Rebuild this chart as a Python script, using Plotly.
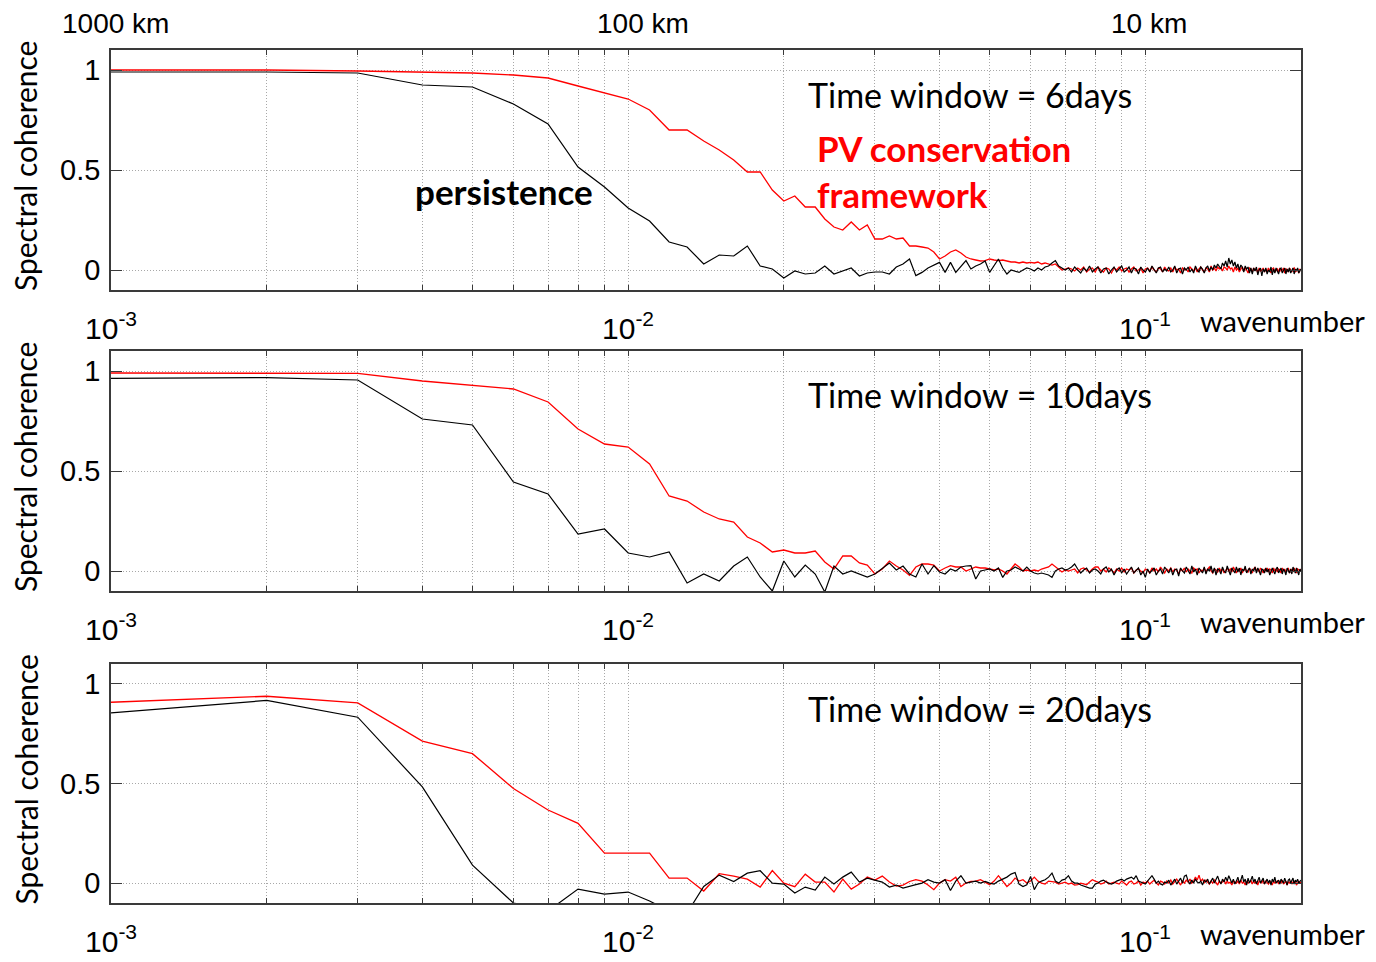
import numpy as np
import plotly.graph_objects as go

# Wavenumber grid: k = 0.001 ... 0.200
wavenumber = np.arange(1, 201) * 0.001

# --- Time window = 6 days ---
persist_6d = [
    0.99, 0.99, 0.985, 0.925, 0.915, 0.83, 0.73, 0.515, 0.415, 0.31,
    0.245, 0.14, 0.115, 0.03, 0.075, 0.07, 0.12, 0.02, 0.005, -0.04,
    -0.005, -0.02, -0.015, 0.02, -0.02, -0.005, 0.01, -0.03, -0.015, -0.01,
    -0.01, -0.02, 0.015, 0.03, 0.055, -0.028, -0.012, 0.01, 0.025, 0.038,
    -0.012, 0.038, -0.012, 0.02, 0.047, 0.005, 0.02, 0.03, 0.045, -0.012,
    0.02, 0.055, 0.01, -0.02, 0.0, -0.005, -0.012, 0.0, 0.01, 0.005,
    -0.005, 0.01, 0.0, 0.015, 0.02, 0.035, 0.047, 0.02, 0.01, 0.0,
    0.01, -0.01, 0.015, 0.0, -0.015, 0.01, -0.005, 0.02, -0.01, 0.005,
    0.015, -0.015, 0.005, 0.01, -0.02, 0.0, 0.015, -0.01, 0.005, 0.02,
    -0.01, 0.0, 0.015, -0.015, 0.01, 0.005, -0.02, 0.015, 0.0, -0.01,
    0.01, -0.01, 0.02, 0.0, -0.015, 0.01, 0.015, -0.01, 0.005, -0.005,
    0.015, -0.01, 0.0, 0.02, -0.015, 0.005, 0.01, -0.02, 0.01, 0.0,
    0.015, -0.01, 0.005, -0.015, 0.02, 0.0, -0.01, 0.015, 0.005, -0.015,
    0.01, 0.02, -0.005, 0.015, 0.0, 0.025, 0.01, 0.03, 0.015, 0.005,
    0.035, 0.02, 0.045, 0.015, 0.06, 0.03, 0.05, 0.02, 0.04, 0.01,
    0.03, 0.0, 0.025, 0.015, -0.01, 0.02, 0.005, 0.015, -0.015, 0.01,
    -0.02, 0.01, -0.005, 0.015, -0.025, 0.0, 0.01, -0.03, 0.005, -0.01,
    0.01, -0.02, 0.0, -0.01, 0.015, -0.025, 0.005, -0.015, 0.01, -0.005,
    -0.02, 0.005, 0.01, -0.015, 0.0, 0.01, -0.02, 0.005, -0.01, 0.01,
    -0.015, 0.0, 0.01, -0.02, 0.005, -0.005, 0.01, -0.015, 0.0, 0.005,
]
pv_6d = [
    1.0, 1.0, 0.995, 0.99, 0.985, 0.975, 0.96, 0.92, 0.885, 0.855,
    0.80, 0.70, 0.70, 0.645, 0.60, 0.55, 0.49, 0.49, 0.40, 0.345,
    0.37, 0.315, 0.315, 0.255, 0.215, 0.20, 0.24, 0.20, 0.225, 0.155,
    0.155, 0.17, 0.155, 0.16, 0.12, 0.12, 0.115, 0.11, 0.09, 0.055,
    0.07, 0.09, 0.10, 0.085, 0.065, 0.055, 0.05, 0.045, 0.047, 0.055,
    0.05, 0.047, 0.05, 0.045, 0.04, 0.04, 0.035, 0.04, 0.035, 0.038,
    0.035, 0.04, 0.03, 0.035, 0.03, 0.025, 0.03, 0.015, 0.0, 0.005,
    0.01, 0.005, -0.005, 0.01, 0.0, 0.015, -0.01, 0.005, 0.01, -0.01,
    0.015, 0.0, -0.01, 0.01, 0.005, -0.015, 0.01, 0.0, 0.015, -0.005,
    0.005, 0.01, -0.01, 0.005, 0.015, -0.005, 0.0, 0.01, -0.015, 0.005,
    0.01, -0.005, 0.015, 0.0, -0.01, 0.01, 0.005, -0.01, 0.015, 0.0,
    -0.005, 0.01, -0.01, 0.015, 0.0, 0.005, -0.015, 0.01, 0.0, 0.005,
    -0.01, 0.015, 0.005, -0.005, 0.01, -0.01, 0.005, 0.015, 0.0, -0.01,
    0.01, 0.005, -0.01, 0.02, 0.0, 0.01, -0.005, 0.015, 0.005, 0.01,
    -0.005, 0.015, 0.01, 0.0, 0.02, 0.005, 0.01, -0.01, 0.015, 0.0,
    0.01, -0.01, 0.005, 0.015, -0.005, 0.01, 0.0, -0.015, 0.01, 0.005,
    -0.01, 0.01, 0.0, 0.005, -0.015, 0.01, -0.005, 0.0, 0.01, -0.01,
    0.005, -0.01, 0.01, 0.0, -0.015, 0.005, 0.01, -0.01, 0.0, 0.005,
    -0.01, 0.01, -0.005, 0.0, 0.01, -0.015, 0.005, 0.0, -0.01, 0.01,
    0.0, -0.01, 0.005, 0.01, -0.01, 0.0, 0.005, -0.015, 0.005, -0.005,
]

# --- Time window = 10 days ---
persist_10d = [
    0.963, 0.967, 0.955, 0.76, 0.73, 0.445, 0.385, 0.185, 0.21, 0.09,
    0.07, 0.095, -0.06, -0.015, -0.05, 0.025, 0.07, -0.03, -0.1, 0.05,
    -0.03, 0.03, -0.015, -0.105, 0.025, -0.015, 0.0, -0.015, -0.03, -0.015,
    0.015, 0.04, 0.005, 0.025, -0.015, -0.03, 0.035, -0.015, 0.027, -0.005,
    -0.015, 0.01, 0.0, 0.02, 0.025, 0.027, -0.04, 0.0, 0.005, 0.01,
    0.0, 0.015, -0.032, 0.0, 0.005, 0.02, 0.01, 0.0, 0.02, 0.0,
    -0.01, -0.015, -0.01, -0.015, -0.02, -0.032, 0.0, 0.01, 0.015, 0.005,
    0.01, 0.02, 0.035, 0.01, -0.01, 0.005, 0.015, -0.01, 0.005, 0.01,
    0.0, -0.015, 0.01, 0.02, -0.005, 0.01, -0.02, 0.005, 0.015, -0.01,
    0.01, -0.015, 0.0, 0.02, -0.01, 0.005, 0.015, -0.02, 0.0, -0.032,
    0.01, -0.01, 0.005, 0.015, -0.02, 0.0, 0.01, -0.015, 0.02, 0.005,
    -0.01, 0.015, -0.02, 0.005, 0.01, -0.025, 0.015, 0.0, -0.01, 0.02,
    0.0, -0.015, 0.025, -0.005, 0.01, -0.02, 0.015, 0.005, -0.01, 0.02,
    -0.015, 0.01, 0.0, 0.025, -0.01, 0.015, -0.02, 0.01, 0.005, -0.015,
    0.02, 0.0, -0.01, 0.025, 0.005, -0.02, 0.015, 0.0, -0.01, 0.02,
    -0.005, 0.015, -0.02, 0.01, 0.0, 0.025, -0.01, 0.005, 0.015, -0.015,
    0.01, 0.0, 0.02, -0.01, 0.015, 0.0, -0.02, 0.01, 0.005, -0.01,
    0.015, -0.005, 0.01, -0.02, 0.005, 0.015, 0.0, -0.015, 0.01, 0.02,
    -0.01, 0.005, 0.015, -0.015, 0.01, 0.0, -0.02, 0.015, 0.005, -0.01,
    0.01, -0.015, 0.02, 0.0, -0.01, 0.015, -0.005, -0.02, 0.01, 0.0,
]
pv_10d = [
    0.99, 0.99, 0.988, 0.95, 0.93, 0.91, 0.845, 0.71, 0.635, 0.62,
    0.535, 0.375, 0.35, 0.295, 0.26, 0.245, 0.17, 0.14, 0.095, 0.105,
    0.09, 0.09, 0.10, 0.045, 0.01, 0.075, 0.075, 0.04, 0.03, -0.015,
    0.01, 0.05, 0.025, 0.005, -0.022, 0.02, 0.035, 0.035, 0.03, 0.0,
    0.015, 0.027, 0.02, 0.02, 0.0, 0.01, 0.02, 0.015, 0.015, 0.01,
    0.005, 0.01, 0.0, -0.015, 0.01, 0.035, 0.02, 0.0, 0.005, 0.0,
    0.005, 0.0, 0.01, 0.015, 0.02, 0.035, 0.02, 0.005, -0.005, 0.005,
    0.0, 0.005, 0.01, -0.01, 0.01, 0.015, 0.005, -0.005, 0.01, 0.02,
    0.02, 0.0, 0.01, -0.005, 0.015, 0.005, -0.01, 0.01, 0.0, 0.015,
    -0.005, 0.01, 0.005, 0.015, -0.01, 0.005, 0.01, 0.0, -0.01, 0.01,
    0.005, -0.01, 0.015, 0.0, 0.01, -0.005, 0.02, 0.005, -0.01, 0.01,
    0.0, 0.015, -0.005, 0.01, 0.005, -0.015, 0.01, 0.0, 0.015, -0.005,
    0.01, 0.0, -0.01, 0.015, 0.005, 0.01, -0.01, 0.005, 0.0, 0.015,
    -0.005, 0.01, 0.02, 0.0, -0.01, 0.01, 0.005, -0.005, 0.015, 0.0,
    0.01, -0.01, 0.005, 0.015, 0.0, 0.01, -0.005, 0.02, 0.005, -0.01,
    0.01, 0.0, 0.015, -0.01, 0.005, 0.01, 0.0, -0.005, 0.015, 0.005,
    -0.01, 0.01, 0.02, 0.0, 0.01, -0.005, 0.015, 0.005, -0.01, 0.01,
    0.0, 0.015, -0.005, 0.01, 0.005, -0.01, 0.015, 0.0, 0.01, -0.005,
    0.01, 0.005, -0.01, 0.015, 0.0, 0.01, -0.005, 0.005, 0.015, -0.01,
    0.005, 0.01, -0.005, 0.015, 0.0, -0.01, 0.01, 0.005, 0.0, 0.01,
]

# --- Time window = 20 days ---
persist_20d = [
    0.855, 0.917, 0.833, 0.483, 0.09, -0.1, -0.14, -0.03, -0.055, -0.045,
    -0.09, -0.14, -0.15, -0.017, 0.04, 0.008, 0.05, 0.062, 0.0, -0.005,
    -0.05, -0.02, -0.035, 0.03, -0.005, 0.03, 0.055, 0.005, 0.025, 0.015,
    0.005, -0.02, -0.01, -0.025, -0.015, -0.008, 0.0, 0.017, 0.005, 0.0,
    0.017, -0.037, 0.01, 0.037, 0.0, 0.005, 0.01, 0.0, 0.008, 0.0,
    -0.005, 0.01, 0.02, 0.03, 0.045, 0.053, -0.005, -0.017, -0.008, 0.033,
    -0.033, 0.0, 0.01, 0.017, 0.03, 0.05, 0.01, 0.0, 0.015, 0.02,
    0.037, 0.01, 0.0, 0.0, -0.01, -0.015, -0.02, -0.025, -0.025, -0.005,
    0.0, 0.01, 0.015, 0.005, 0.0, -0.005, 0.0, 0.01, 0.015, 0.02,
    0.01, 0.02, 0.025, 0.03, 0.02, 0.037, 0.01, 0.005, 0.0, -0.005,
    0.01, 0.025, 0.037, 0.02, 0.0, 0.01, -0.005, -0.01, 0.005, 0.0,
    0.015, -0.01, 0.005, 0.02, -0.005, 0.01, 0.025, 0.0, 0.035, 0.04,
    0.01, -0.005, 0.015, 0.0, 0.02, 0.005, 0.0, 0.01, -0.01, 0.015,
    0.005, 0.02, -0.005, 0.01, 0.025, 0.0, 0.015, 0.035, 0.01, -0.005,
    0.02, 0.005, 0.03, 0.01, 0.037, 0.015, 0.0, 0.02, -0.005, 0.01,
    0.03, 0.0, 0.015, 0.04, 0.005, 0.02, -0.01, 0.025, 0.0, 0.015,
    0.035, 0.005, 0.02, -0.005, 0.01, 0.03, 0.0, 0.015, 0.025, -0.005,
    0.01, 0.02, 0.0, 0.015, -0.01, 0.02, 0.005, 0.03, 0.0, 0.01,
    0.015, -0.005, 0.02, 0.01, 0.0, 0.025, 0.005, -0.01, 0.015, 0.02,
    0.0, 0.01, 0.025, -0.005, 0.015, 0.005, 0.02, 0.0, 0.01, 0.015,
]
pv_20d = [
    0.908, 0.938, 0.905, 0.713, 0.65, 0.475, 0.367, 0.30, 0.15, 0.15,
    0.15, 0.025, 0.025, -0.04, 0.047, 0.035, 0.02, -0.02, 0.063, 0.0,
    -0.018, 0.045, 0.005, 0.005, -0.045, 0.02, -0.03, -0.005, 0.03, 0.015,
    0.035, 0.005, -0.015, -0.01, 0.008, 0.017, 0.01, -0.01, -0.033, 0.0,
    0.017, 0.01, 0.03, -0.017, 0.0, 0.008, 0.01, 0.017, 0.005, -0.008,
    0.01, 0.037, 0.01, -0.017, 0.0, 0.025, 0.01, 0.017, 0.0, 0.01,
    0.03, 0.01, 0.0, -0.005, 0.01, 0.008, 0.005, -0.005, 0.0, 0.005,
    -0.005, 0.0, -0.01, -0.008, 0.0, -0.005, -0.008, 0.005, 0.017, 0.01,
    0.005, -0.005, 0.0, 0.01, -0.005, 0.0, 0.005, 0.0, -0.005, 0.01,
    0.0, -0.01, 0.005, 0.01, -0.005, 0.0, 0.01, -0.01, 0.005, 0.0,
    0.01, -0.005, 0.005, 0.015, 0.0, -0.01, 0.01, 0.005, -0.005, 0.01,
    0.0, 0.015, -0.005, 0.01, 0.02, 0.005, -0.01, 0.01, 0.0, 0.015,
    0.005, 0.02, 0.0, 0.01, 0.03, 0.015, 0.04, 0.01, 0.02, 0.0,
    0.015, 0.005, -0.005, 0.01, 0.0, 0.015, 0.005, -0.01, 0.01, 0.0,
    0.005, 0.015, -0.005, 0.01, 0.0, 0.005, -0.01, 0.01, 0.005, 0.0,
    0.01, -0.005, 0.015, 0.0, 0.005, -0.01, 0.01, 0.0, 0.005, 0.015,
    -0.005, 0.01, 0.0, 0.005, -0.01, 0.01, 0.005, 0.0, 0.015, -0.005,
    0.01, 0.0, -0.005, 0.01, 0.005, -0.01, 0.01, 0.0, 0.005, 0.01,
    -0.005, 0.01, 0.0, 0.015, -0.005, 0.005, 0.01, -0.01, 0.005, 0.0,
    0.01, -0.005, 0.005, 0.0, 0.01, -0.01, 0.005, 0.01, 0.0, 0.005,
]

panel_titles = ["Time window = 6days", "Time window = 10days", "Time window = 20days"]
persistence = [persist_6d, persist_10d, persist_20d]
pv_framework = [pv_6d, pv_10d, pv_20d]

decade_labels = ["10<sup>-3</sup>", "10<sup>-2</sup>", "10<sup>-1</sup>"]
decade_values = [1e-3, 1e-2, 1e-1]
scale_labels = ["1000 km", "100 km", "10 km"]
scale_label_centers = [115, 643, 1149]   # pixel centres above the first panel

# x tick positions at every log step (1..9 per decade) up to 0.2
x_ticks = [m * 10.0 ** e for e in (-3, -2) for m in range(1, 10)] + [0.1, 0.2]
y_ticks = [0, 0.5, 1]
y_ticklabels = ["0", "0.5", "1"]

W, H = 1376, 962
# panel frames in pixels: (top, bottom)
frames = [(50, 290), (351, 591), (664, 903)]
x_left, x_right = 111, 1301

SANS = "Liberation Sans, Arial, sans-serif"
TEXT = "Lato, Open Sans, sans-serif"
FRAME = "#3a3a3a"
GRID = "#a8a8a8"
GRID_DASH = "1px,2px"

fig = go.Figure()
layout = dict(
    width=W, height=H, autosize=False,
    margin=dict(l=0, r=0, t=0, b=0),
    paper_bgcolor="white", plot_bgcolor="white",
    showlegend=False,
)
annotations = []

for i in range(3):
    n = "" if i == 0 else str(i + 1)
    top, bot = frames[i]
    xa, ya = "x" + n, "y" + n

    fig.add_trace(go.Scatter(x=wavenumber, y=pv_framework[i], mode="lines",
                             line=dict(color="#ff0000", width=1.3),
                             xaxis=xa, yaxis=ya))
    fig.add_trace(go.Scatter(x=wavenumber, y=persistence[i], mode="lines",
                             line=dict(color="black", width=1.2),
                             xaxis=xa, yaxis=ya))

    layout["xaxis" + n] = dict(
        type="log", range=[np.log10(1e-3), np.log10(0.2)],
        domain=[x_left / W, x_right / W], anchor=ya,
        tickvals=x_ticks, showticklabels=False,
        ticks="inside", ticklen=5, tickwidth=1, tickcolor=FRAME,
        showline=True, linecolor=FRAME, linewidth=1.5, mirror="ticks",
        showgrid=True, gridcolor=GRID, gridwidth=1, griddash=GRID_DASH,
        zeroline=False,
    )
    layout["yaxis" + n] = dict(
        range=[-0.1, 1.1],
        domain=[1 - bot / H, 1 - top / H], anchor=xa,
        tickvals=y_ticks, ticktext=y_ticklabels,
        ticks="inside", ticklen=11, tickwidth=1, tickcolor=FRAME,
        tickfont=dict(family=SANS, size=29, color="black"),
        ticklabelstandoff=3,
        showline=True, linecolor=FRAME, linewidth=1.5, mirror="ticks",
        showgrid=True, gridcolor=GRID, gridwidth=1, griddash=GRID_DASH,
        zeroline=False,
    )

    # decade labels below each panel
    for lab, val in zip(decade_labels, decade_values):
        annotations.append(dict(
            text=lab, xref=xa, x=np.log10(val), yref="paper", y=1 - (bot + 36) / H,
            xanchor="center", yanchor="middle", showarrow=False,
            font=dict(family=SANS, size=30, color="black"),
        ))
    annotations.append(dict(
        text="wavenumber", xref="paper", x=1198 / W, yref="paper", y=1 - (bot + 30) / H,
        xanchor="left", yanchor="middle", showarrow=False,
        font=dict(family=TEXT, size=29, color="black"),
    ))
    # y-axis title
    annotations.append(dict(
        text="Spectral coherence", textangle=-90,
        xref="paper", x=25 / W, yref="paper", y=1 - ((top + bot) / 2 - 4) / H,
        xanchor="center", yanchor="middle", showarrow=False,
        font=dict(family=TEXT, size=30, color="black"),
    ))
    # panel caption
    annotations.append(dict(
        text=panel_titles[i], xref="paper", x=806 / W, yref="paper",
        y=1 - (top + 44) / H, xanchor="left", yanchor="middle", showarrow=False,
        font=dict(family=TEXT, size=34, color="black"),
    ))

# length scales along the top of the first panel
for lab, cx in zip(scale_labels, scale_label_centers):
    annotations.append(dict(
        text=lab, xref="paper", x=cx / W, yref="paper", y=1 - 23 / H,
        xanchor="center", yanchor="middle", showarrow=False,
        font=dict(family=SANS, size=28, color="black"),
    ))

# curve labels in the first panel
annotations.append(dict(
    text="<b>persistence</b>", xref="paper", x=413 / W, yref="paper", y=1 - 191 / H,
    xanchor="left", yanchor="middle", showarrow=False,
    font=dict(family=TEXT, size=35, color="black"),
))
annotations.append(dict(
    text="<b>PV conservation<br>framework</b>", xref="paper", x=815 / W, yref="paper",
    y=1 - 171 / H, xanchor="left", yanchor="middle", align="left", showarrow=False,
    font=dict(family=TEXT, size=35, color="#ff0000"),
))

layout["annotations"] = annotations
fig.update_layout(**layout)
fig.write_html("out.html")
